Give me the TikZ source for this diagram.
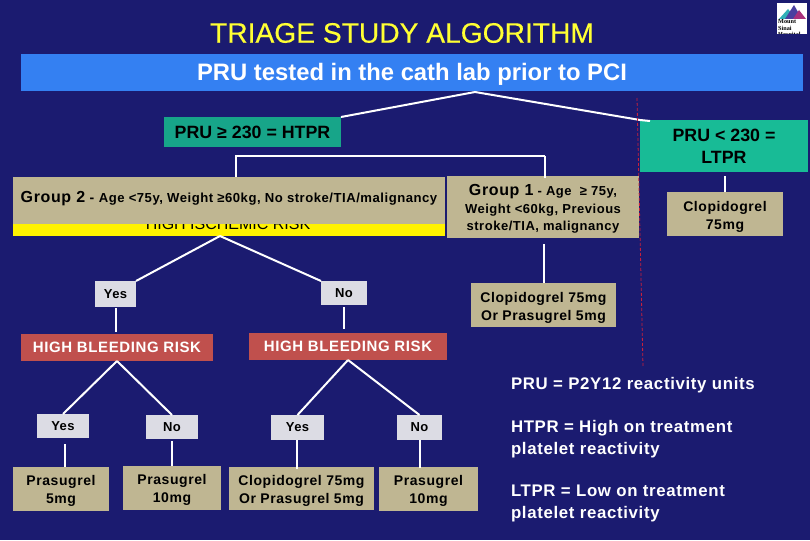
\documentclass[tikz,border=0pt]{standalone}
\usepackage{fontspec}
\setmainfont{Liberation Sans}
\newfontfamily\lsb[LetterSpace=4,BoldFont={Liberation Sans Bold}]{Liberation Sans}
\newfontfamily\titlef[FakeBold=0.35]{Liberation Sans}
\newfontfamily\logof{Liberation Serif Bold}
\definecolor{bgnavy}{HTML}{1B1B70}
\definecolor{banner}{HTML}{3480F2}
\definecolor{tealA}{HTML}{17A589}
\definecolor{tealB}{HTML}{18BB96}
\definecolor{tanbox}{HTML}{BFB692}
\definecolor{greybox}{HTML}{DCDCE4}
\definecolor{redbox}{HTML}{C0504D}
\definecolor{title}{HTML}{FFFF33}
\definecolor{divider}{HTML}{C8203C}
\definecolor{logoteal}{HTML}{30B0B8}
\definecolor{logoblue}{HTML}{4A3FA0}
\definecolor{logopink}{HTML}{A8307C}
\newcommand{\fs}[2]{\fontsize{#1}{#2}\selectfont}
\newcommand{\dn}[1]{\rule{0pt}{#1pt}}
\newcommand{\pxbox}[7]{% name,x1,y1,x2,y2,style,text
  \pgfmathsetmacro{\bw}{#4-#2}\pgfmathsetmacro{\bh}{#5-#3}
  \pgfmathsetmacro{\cx}{(#2+#4)/2}\pgfmathsetmacro{\cy}{(#3+#5)/2}
  \node[#6,minimum width=\bw pt,minimum height=\bh pt] (#1) at (\cx,\cy) {#7};}
\tikzset{
  basebox/.style={inner sep=0pt,outer sep=0pt,align=center,text=black},
  tanb/.style={basebox,fill=tanbox,font=\lsb\bfseries\fs{14}{18}},
  greyb/.style={basebox,fill=greybox,font=\lsb\bfseries\fs{13}{16}},
  redb/.style={basebox,fill=redbox,text=white,font=\lsb\bfseries\fs{15}{18}},
  conn/.style={draw=white,line width=2pt},
  legend/.style={inner sep=0pt,outer sep=0pt,align=left,anchor=west,text=white,font=\lsb\bfseries\fs{16.8}{21.5}}
}
\begin{document}
\begin{tikzpicture}[x=1pt,y=-1pt]
\useasboundingbox (0,0) rectangle (810,540);
\fill[bgnavy] (0,0) rectangle (810,540);
% logo
\fill[white] (777,3) rectangle (807,34);
\fill[logoteal] (779,19) -- (788,9) -- (796,19) -- cycle;
\fill[logoblue] (785,19) -- (794,5) -- (802,19) -- cycle;
\fill[logopink] (793,19) -- (799,10) -- (806,19) -- cycle;
\begin{scope}
\clip (777,3) rectangle (807,34);
\node[inner sep=0pt,align=left,font=\logof\fs{6.2}{6.4},text=black,anchor=north west] (logotext) at (778,19.5) {Mount\\Sinai\\Hospital};
\end{scope}
% title
\node[inner sep=0pt,text=title,font=\titlef\fs{28.2}{30}] (maintitle) at (402,33) {TRIAGE STUDY ALGORITHM};
\pxbox{bann}{21}{54}{803}{91}{basebox,fill=banner,text=white,font=\bfseries\fs{23.8}{26}}{\dn{21}PRU tested in the cath lab prior to PCI}
% coordinates
\coordinate (apex) at (475,92);
\coordinate (forkl) at (236,156);
\coordinate (forkr) at (545,156);
\pxbox{htpr}{164}{117}{341}{147}{basebox,fill=tealA,font=\bfseries\fs{17.8}{20}}{PRU ≥ 230 = HTPR}
\pxbox{ltpr}{640}{120}{808}{172}{basebox,fill=tealB,font=\bfseries\fs{17.8}{22}}{PRU < 230 =\\LTPR}
\draw[conn] (htpr.north east) -- (apex) -- (ltpr.north west) -- ++(10,1);
\pxbox{isch}{13}{224}{445}{236}{basebox,fill=yellow}{}
\node[inner sep=0pt,text=black,font=\fs{16}{18}] (ischt) at (228,224) {HIGH ISCHEMIC RISK};
\pxbox{grptwo}{13}{177}{445}{224}{tanb}{\raisebox{8pt}{{\fs{16}{18}Group 2} - {\fs{13.1}{18}Age <75y, Weight ≥60kg, No stroke/TIA/malignancy}}}
\pxbox{grpone}{447}{176}{639}{238}{tanb,font=\lsb\bfseries\fs{13}{17.5}}{\dn{15.5}{\fs{16}{17.5}Group 1} - Age ~≥ 75y,\\Weight <60kg, Previous\\stroke/TIA, malignancy}
\draw[conn] (forkr) -- (forkl) -- (grptwo.north -| forkl);
\draw[conn] (forkr) -- ([yshift=-2pt]grpone.north -| forkr) ;
\pxbox{clopa}{667}{192}{783}{236}{tanb}{\dn{16}Clopidogrel\\75mg}
\pxbox{clopb}{471}{283}{616}{327}{tanb}{\dn{15}Clopidogrel 75mg\\Or Prasugrel 5mg}
\draw[conn] ([yshift=-4pt]ltpr.south -| clopa.north) -- (clopa.north);
\draw[conn,shorten <=6pt] (grpone.south -| clopb.north) -- (clopb.north);
% level 2
\pxbox{yesa}{95}{281}{136}{307}{greyb}{Yes}
\pxbox{noa}{321}{281}{367}{305}{greyb}{No}
\coordinate (ischfork) at (220,236);
\draw[conn] (ischfork) -- (yesa.north east);
\draw[conn] (ischfork) -- (noa.north west);
\pxbox{hbra}{21}{334}{213}{361}{redb}{HIGH BLEEDING RISK}
\pxbox{hbrb}{249}{333}{447}{360}{redb}{HIGH BLEEDING RISK}
\draw[conn,shorten <=1pt,shorten >=2pt] (yesa.south) -- (hbra.north -| yesa.south);
\draw[conn,shorten <=2pt,shorten >=4pt] (noa.south) -- (hbrb.north -| noa.south);
% level 3
\pxbox{yesb}{37}{414}{89}{438}{greyb}{Yes}
\pxbox{nob}{146}{415}{198}{439}{greyb}{No}
\pxbox{yesc}{271}{415}{324}{440}{greyb}{Yes}
\pxbox{noc}{397}{415}{442}{440}{greyb}{No}
\coordinate (hbrafork) at (117,361);
\coordinate (hbrbfork) at (348,360);
\draw[conn] (hbrafork) -- (yesb.north);
\draw[conn] (hbrafork) -- (nob.north);
\draw[conn] (hbrbfork) -- (yesc.north);
\draw[conn] (hbrbfork) -- (noc.north);
\pxbox{prasa}{13}{467}{109}{511}{tanb}{\dn{14}Prasugrel\\5mg}
\pxbox{prasb}{123}{466}{221}{510}{tanb}{\dn{14}Prasugrel\\10mg}
\pxbox{clopc}{229}{467}{374}{510}{tanb}{\dn{14}Clopidogrel 75mg\\Or Prasugrel 5mg}
\pxbox{prasc}{379}{467}{478}{511}{tanb}{\dn{14}Prasugrel\\10mg}
\coordinate (ya) at (65,444);
\coordinate (yb) at (172,441);
\coordinate (yc) at (297,440);
\coordinate (yd) at (420,440);
\draw[conn] (ya) -- (ya |- prasa.north);
\draw[conn] (yb) -- (yb |- prasb.north);
\draw[conn] (yc) -- ([yshift=-2pt]yc |- clopc.north);
\draw[conn] (yd) -- ([yshift=-1pt]yd |- prasc.north);
% divider
\coordinate (diva) at (637,98);
\coordinate (divb) at (643,367);
\draw[divider,densely dashed,line width=0.8pt] (diva) -- (divb);
% legend
\node[legend] (lega) at (511,385.5) {PRU = P2Y12 reactivity units};
\node[legend] (legb) at (511,439) {HTPR = High on treatment\\platelet reactivity};
\node[legend] (legc) at (511,503.5) {LTPR = Low on treatment\\platelet reactivity};
\end{tikzpicture}
\end{document}
